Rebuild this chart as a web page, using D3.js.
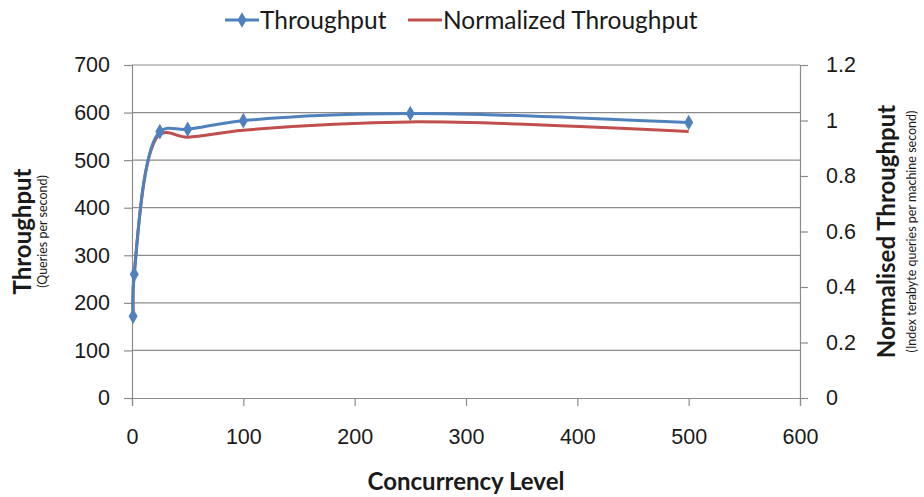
<!DOCTYPE html>
<html>
<head>
<meta charset="utf-8">
<script src="https://cdn.jsdelivr.net/npm/d3@7"></script>
<style>
  html, body { margin: 0; padding: 0; background: #fff; }
  svg { display: block; font-family: Lato, "Open Sans", sans-serif; }
</style>
</head>
<body>
<svg id="chart" width="924" height="497"></svg>
<script>
// Concurrency levels tested and the measured results
const concurrency = [1, 2, 25, 50, 100, 250, 500];
const throughput = [172, 260, 560, 565, 583, 598, 579];
const normalizedThroughput = [0.30, 0.45, 0.95, 0.94, 0.965, 0.995, 0.96];

// Axis tick values
const xTicks = [0, 100, 200, 300, 400, 500, 600];
const yLeftTicks = [0, 100, 200, 300, 400, 500, 600, 700];
const yRightTicks = [0, 0.2, 0.4, 0.6, 0.8, 1, 1.2];

const seriesNames = ["Throughput", "Normalized Throughput"];
const blue = "#4F81BD", red = "#C0504D", grid = "#8c8c8c", ink = "#1a1a1a";

const svg = d3.select("#chart");
const plot = { left: 132, right: 800, top: 65, bottom: 398 };

const x = d3.scaleLinear().domain([0, 600]).range([plot.left, plot.right]);
const yL = d3.scaleLinear().domain([0, 700]).range([plot.bottom, plot.top]);
const yR = d3.scaleLinear().domain([0, 1.2]).range([plot.bottom, plot.top]);

// Horizontal gridlines
svg.append("g").selectAll("line").data(yLeftTicks.slice(1)).join("line")
  .attr("x1", plot.left).attr("x2", plot.right)
  .attr("y1", d => yL(d)).attr("y2", d => yL(d))
  .attr("stroke", grid).attr("stroke-width", 1.2);

function styleAxis(g) {
  g.select(".domain").attr("stroke", grid).attr("stroke-width", 1.2);
  g.selectAll(".tick line").attr("stroke", grid).attr("stroke-width", 1.2);
  g.selectAll(".tick text").attr("fill", ink).attr("font-size", 21.5);
}

// Left axis
svg.append("g").attr("transform", `translate(${plot.left},0)`)
  .call(d3.axisLeft(yL).tickValues(yLeftTicks).tickSizeOuter(0).tickSize(8).tickPadding(14).tickFormat(d3.format("d")))
  .call(styleAxis);

// Right axis
svg.append("g").attr("transform", `translate(${plot.right},0)`)
  .call(d3.axisRight(yR).tickValues(yRightTicks).tickSizeOuter(0).tickSize(8).tickPadding(18).tickFormat(d => String(d)))
  .call(styleAxis)
  .selectAll(".tick text").attr("text-anchor", "start");

// Bottom axis
svg.append("g").attr("transform", `translate(0,${plot.bottom})`)
  .call(d3.axisBottom(x).tickValues(xTicks).tickSizeOuter(0).tickSize(8).tickPadding(23).tickFormat(d3.format("d")))
  .call(styleAxis);

// Series lines (smoothed)
const curve = d3.curveCatmullRom.alpha(0.5);
const lineL = d3.line().x((d, i) => x(concurrency[i])).y(d => yL(d)).curve(curve);
const lineR = d3.line().x((d, i) => x(concurrency[i])).y(d => yR(d)).curve(curve);

svg.append("path").datum(normalizedThroughput).attr("d", lineR)
  .attr("fill", "none").attr("stroke", red).attr("stroke-width", 3).attr("stroke-linejoin", "round");
svg.append("path").datum(throughput).attr("d", lineL)
  .attr("fill", "none").attr("stroke", blue).attr("stroke-width", 3).attr("stroke-linejoin", "round");

// Diamond markers on throughput
const diamond = d3.symbol().type(d3.symbolDiamond).size(70);
svg.append("g").selectAll("path").data(throughput).join("path")
  .attr("d", diamond)
  .attr("transform", (d, i) => `translate(${x(concurrency[i])},${yL(d)})`)
  .attr("fill", blue);

// Axis titles
svg.append("text").attr("x", (plot.left + plot.right) / 2).attr("y", 490)
  .attr("text-anchor", "middle").attr("font-size", 24).attr("font-weight", "bold").attr("fill", ink)
  .text("Concurrency Level");

const midY = (plot.top + plot.bottom) / 2;
svg.append("text").attr("transform", `translate(31,${midY}) rotate(-90)`)
  .attr("text-anchor", "middle").attr("font-size", 24).attr("font-weight", "bold").attr("fill", ink)
  .text("Throughput");
svg.append("text").attr("transform", `translate(47,${midY}) rotate(-90)`)
  .attr("text-anchor", "middle").attr("font-size", 12.5).attr("fill", ink)
  .text("(Queries per second)");

svg.append("text").attr("transform", `translate(895,${midY}) rotate(-90)`)
  .attr("text-anchor", "middle").attr("font-size", 24).attr("font-weight", "bold").attr("fill", ink)
  .text("Normalised Throughput");
svg.append("text").attr("transform", `translate(916,${midY}) rotate(-90)`)
  .attr("text-anchor", "middle").attr("font-size", 12.5).attr("fill", ink)
  .text("(Index terabyte queries per machine second)");

// Legend
const legend = svg.append("g");
const items = [
  { name: seriesNames[0], color: blue, marker: true, x0: 225 },
  { name: seriesNames[1], color: red, marker: false, x0: 408 }
];
items.forEach(it => {
  legend.append("line").attr("x1", it.x0).attr("x2", it.x0 + 34).attr("y1", 20).attr("y2", 20)
    .attr("stroke", it.color).attr("stroke-width", 3);
  if (it.marker) {
    legend.append("path").attr("d", diamond).attr("transform", `translate(${it.x0 + 17},20)`).attr("fill", it.color);
  }
  legend.append("text").attr("x", it.x0 + 35).attr("y", 28.5)
    .attr("font-size", 24.5).attr("fill", ink).text(it.name);
});
</script>
</body>
</html>
